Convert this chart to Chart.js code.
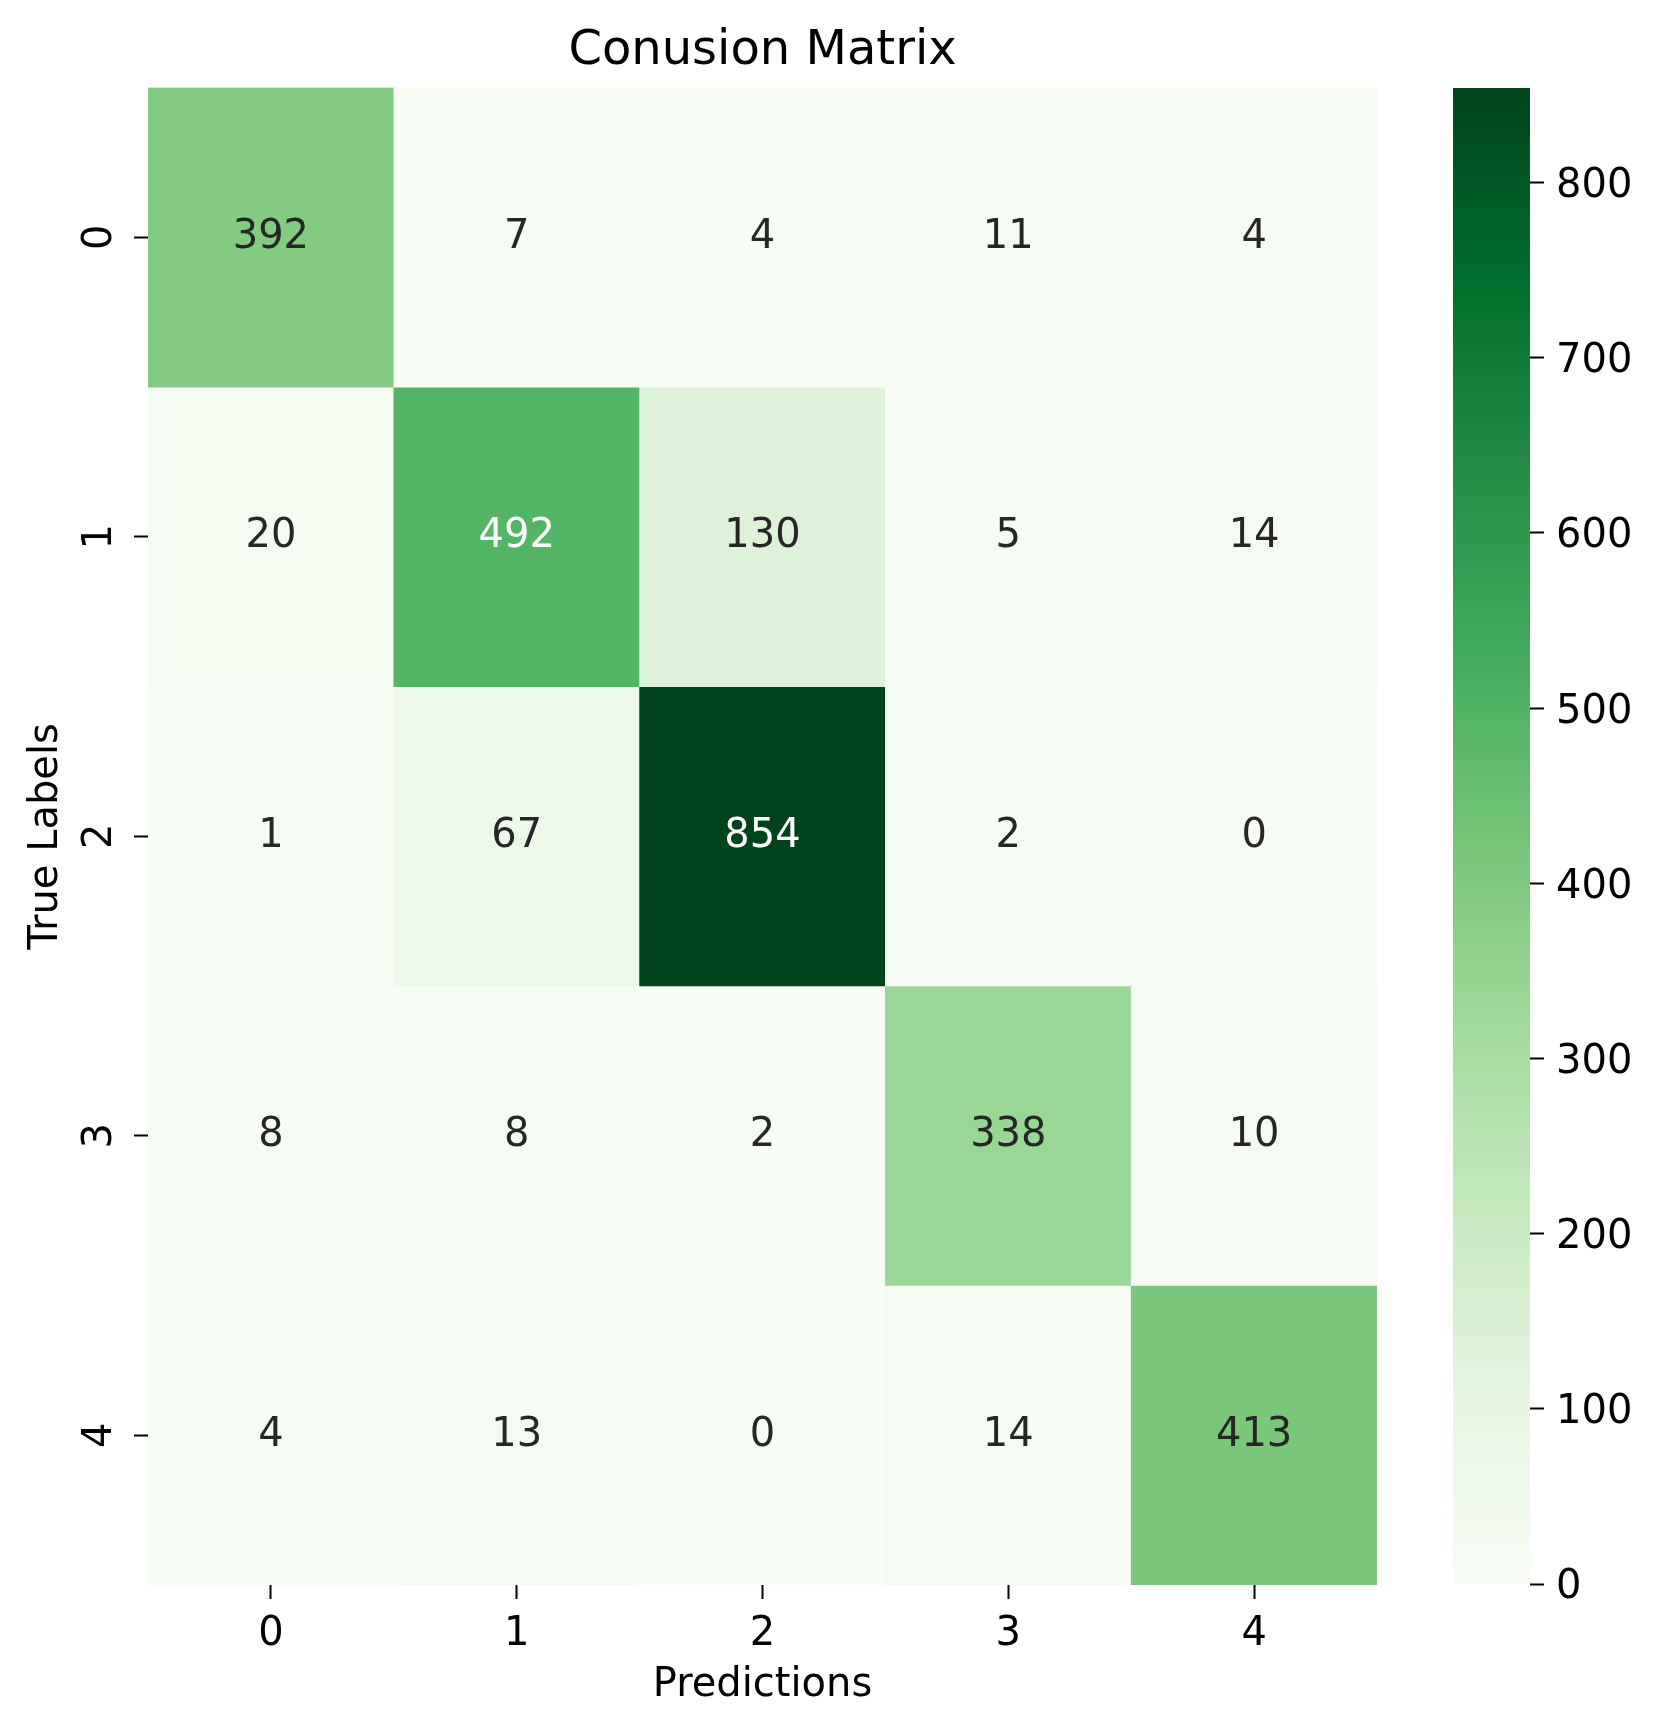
<!DOCTYPE html>
<html lang="en">
<head>
  <meta charset="UTF-8">
  <title>Conusion Matrix</title>
  <script src="https://cdn.jsdelivr.net/npm/chart.js"></script>
  <style>
    body { margin: 0; background: #ffffff; }
    #wrap { position: relative; width: 1660px; height: 1733px; }
    #heatmap { position: absolute; left: 0; top: 0; }
    #colorbar { position: absolute; left: 1400px; top: 0; }
  </style>
</head>
<body>
<div id="wrap">
  <canvas id="heatmap" width="1660" height="1733"></canvas>
  <canvas id="colorbar" width="260" height="1733"></canvas>
</div>

<script>
  const predLabels = ['0', '1', '2', '3', '4'];
  const trueLabels = ['0', '1', '2', '3', '4'];
  const row0 = [392, 7, 4, 11, 4];
  const row1 = [20, 492, 130, 5, 14];
  const row2 = [1, 67, 854, 2, 0];
  const row3 = [8, 8, 2, 338, 10];
  const row4 = [4, 13, 0, 14, 413];
  const rows = [row0, row1, row2, row3, row4];
  const colorbarTicks = [0, 100, 200, 300, 400, 500, 600, 700, 800];

  const vmin = 0;
  const vmax = Math.max(...rows.flat());

  // matplotlib "Greens"
  const greens = [
    [247, 252, 245], [229, 245, 224], [199, 233, 192], [161, 217, 155], [116, 196, 118],
    [65, 171, 93], [35, 139, 69], [0, 109, 44], [0, 68, 27]
  ];

  function greenRGB(v) {
    let t = (v - vmin) / (vmax - vmin);
    t = Math.min(1, Math.max(0, t)) * (greens.length - 1);
    const i = Math.min(Math.floor(t), greens.length - 2);
    const f = t - i;
    return greens[i].map((c, k) => Math.round(c + (greens[i + 1][k] - c) * f));
  }
  function greenColor(v) {
    const c = greenRGB(v);
    return `rgb(${c[0]}, ${c[1]}, ${c[2]})`;
  }
  // same rule seaborn uses to pick the annotation colour
  function textColorFor(v) {
    const lin = greenRGB(v).map(c => {
      c = c / 255;
      return c <= 0.03928 ? c / 12.92 : Math.pow((c + 0.055) / 1.055, 2.4);
    });
    const lum = 0.2126 * lin[0] + 0.7152 * lin[1] + 0.0722 * lin[2];
    return lum > 0.408 ? '#262626' : '#ffffff';
  }

  const FONT = 'DejaVu Sans';

  // one floating-bar dataset per true-label row
  const datasets = rows.map((vals, r) => ({
    label: 'row ' + trueLabels[r],
    data: vals.map(() => [r - 0.5, r + 0.5]),
    counts: vals,
    backgroundColor: vals.map(v => greenColor(v)),
    borderWidth: 0,
    grouped: false,
    barPercentage: 1,
    categoryPercentage: 1
  }));

  const cellLabels = {
    id: 'cellLabels',
    afterDatasetsDraw(chart) {
      const ctx = chart.ctx;
      ctx.save();
      ctx.font = `40px "${FONT}"`;
      ctx.textAlign = 'center';
      ctx.textBaseline = 'middle';
      chart.data.datasets.forEach((ds, di) => {
        chart.getDatasetMeta(di).data.forEach((el, i) => {
          const p = el.getProps(['x', 'y', 'base'], true);
          ctx.fillStyle = textColorFor(ds.counts[i]);
          ctx.fillText(String(ds.counts[i]), p.x, (p.y + p.base) / 2);
        });
      });
      ctx.restore();
    }
  };

  new Chart(document.getElementById('heatmap'), {
    type: 'bar',
    data: { labels: predLabels, datasets: datasets },
    options: {
      responsive: false,
      animation: false,
      layout: { padding: { left: 0, right: 283, top: 0, bottom: 0 } },
      plugins: {
        legend: { display: false },
        tooltip: { enabled: false },
        title: {
          display: true,
          text: 'Conusion Matrix',
          fullSize: false,
          color: '#000000',
          font: { family: FONT, size: 48, weight: 'normal' },
          padding: { top: 23, bottom: 7 }
        }
      },
      scales: {
        x: {
          type: 'category',
          offset: true,
          afterFit: (scale) => { scale.height = 148; },
          grid: { offset: false, drawOnChartArea: false, drawTicks: true, tickLength: 14, tickWidth: 2, tickColor: '#000000' },
          border: { display: false },
          ticks: { color: '#000000', padding: 12, font: { family: FONT, size: 40 } },
          title: {
            display: true,
            text: 'Predictions',
            color: '#000000',
            font: { family: FONT, size: 40 },
            padding: { top: 0, bottom: 23 }
          }
        },
        y: {
          type: 'linear',
          reverse: true,
          min: -0.5,
          max: 4.5,
          afterFit: (scale) => { scale.width = 148; },
          afterBuildTicks: (scale) => {
            scale.ticks = trueLabels.map((l, i) => ({ value: i }));
          },
          grid: { drawOnChartArea: false, drawTicks: true, tickLength: 14, tickWidth: 2, tickColor: '#000000' },
          border: { display: false },
          ticks: {
            color: '#000000',
            minRotation: 90,
            maxRotation: 90,
            crossAlign: 'center',
            padding: 21,
            font: { family: FONT, size: 40 },
            callback: (v) => trueLabels[v]
          },
          title: {
            display: true,
            text: 'True Labels',
            color: '#000000',
            font: { family: FONT, size: 40 },
            padding: { top: 23, bottom: 0 }
          }
        }
      }
    },
    plugins: [cellLabels]
  });

  // colour bar, drawn as one floating bar filled with the colormap
  new Chart(document.getElementById('colorbar'), {
    type: 'bar',
    data: {
      labels: [''],
      datasets: [{
        data: [[vmin, vmax]],
        borderWidth: 0,
        barPercentage: 1,
        categoryPercentage: 1,
        backgroundColor: (c) => {
          const chart = c.chart;
          if (!chart.chartArea) return greenColor(vmin);
          const ys = chart.scales.y;
          const g = chart.ctx.createLinearGradient(0, ys.getPixelForValue(vmin), 0, ys.getPixelForValue(vmax));
          greens.forEach((col, i) => g.addColorStop(i / (greens.length - 1), `rgb(${col[0]}, ${col[1]}, ${col[2]})`));
          return g;
        }
      }]
    },
    options: {
      responsive: false,
      animation: false,
      layout: { padding: { left: 53, right: 0, top: 88, bottom: 149 } },
      plugins: { legend: { display: false }, tooltip: { enabled: false } },
      scales: {
        x: { display: false },
        y: {
          position: 'right',
          min: vmin,
          max: vmax,
          afterFit: (scale) => { scale.width = 130; },
          afterBuildTicks: (scale) => {
            scale.ticks = colorbarTicks.map(v => ({ value: v }));
          },
          grid: { drawOnChartArea: false, drawTicks: true, tickLength: 14, tickWidth: 2, tickColor: '#000000' },
          border: { display: false },
          ticks: {
            color: '#000000',
            padding: 12,
            // empty first line + small lineHeight nudges the label ~4px down to sit on the tick
            font: { family: FONT, size: 40, lineHeight: 0.2 },
            callback: (v) => ['', String(v)]
          }
        }
      }
    }
  });
</script>
</body>
</html>
